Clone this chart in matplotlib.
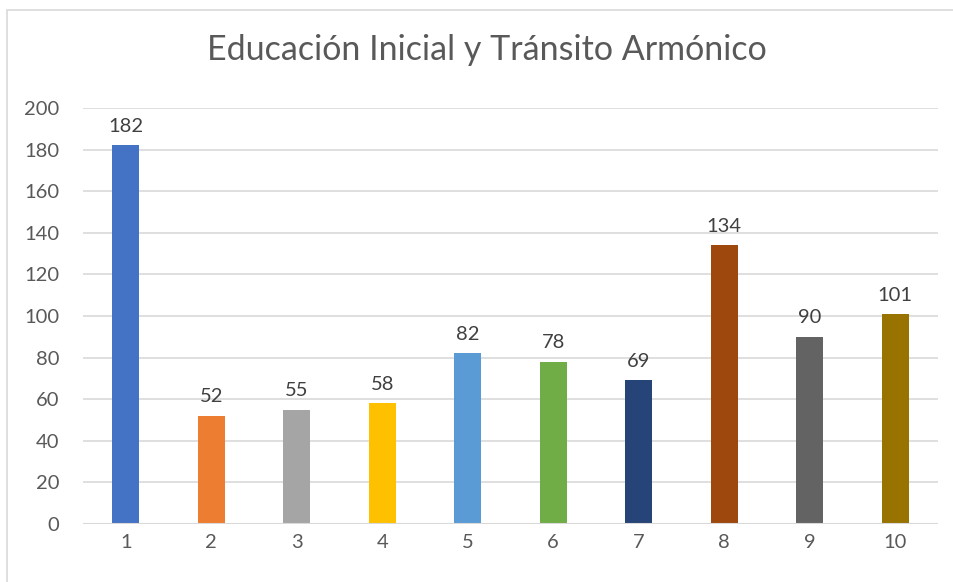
import matplotlib.pyplot as plt
from matplotlib.patches import Rectangle

categories = ["1", "2", "3", "4", "5", "6", "7", "8", "9", "10"]
values = [182, 52, 55, 58, 82, 78, 69, 134, 90, 101]
colors = ["#4472C4", "#ED7D31", "#A5A5A5", "#FFC000", "#5B9BD5",
          "#70AD47", "#264478", "#9E480E", "#636363", "#997300"]
title = "Educación Inicial y Tránsito Armónico"

plt.rcParams['font.family'] = ['Lato', 'DejaVu Sans']
text_color = "#595959"
grid_color = "#D9D9D9"

fig = plt.figure(figsize=(9.54, 5.82), dpi=100)
ax = fig.add_axes([83 / 954, 1 - 524 / 582, 855 / 954, 416 / 582])

x = list(range(len(categories)))
bars = ax.bar(x, values, width=0.32, color=colors, zorder=2)
ax.axhline(0, color=grid_color, linewidth=1.5, zorder=3)

for xi, v in zip(x, values):
    ax.text(xi, v + 5, str(v), ha="center", va="bottom",
            fontsize=14.5, color="#404040")

ax.set_xlim(-0.5, len(categories) - 0.5)
ax.set_ylim(0, 200)
ax.set_yticks(range(0, 201, 20))
ax.set_xticks(x)
ax.set_xticklabels(categories)
ax.tick_params(axis="both", length=0, labelsize=14.5, colors=text_color)
ax.tick_params(axis="x", pad=7)
ax.tick_params(axis="y", pad=17)
ax.grid(axis="y", color=grid_color, linewidth=1.2, zorder=0)
ax.set_axisbelow(True)
for s in ax.spines.values():
    s.set_visible(False)

fig.text(0.510, 1 - 50 / 582, title, ha="center", va="center",
         fontsize=24.5, color=text_color)

fig.patches.append(Rectangle((7 / 954, -0.1), 1.2, 1 - 10 / 582 + 0.1,
                             transform=fig.transFigure, fill=False,
                             edgecolor="#D9D9D9", linewidth=1.2))

fig.savefig("out.png", dpi=100)
